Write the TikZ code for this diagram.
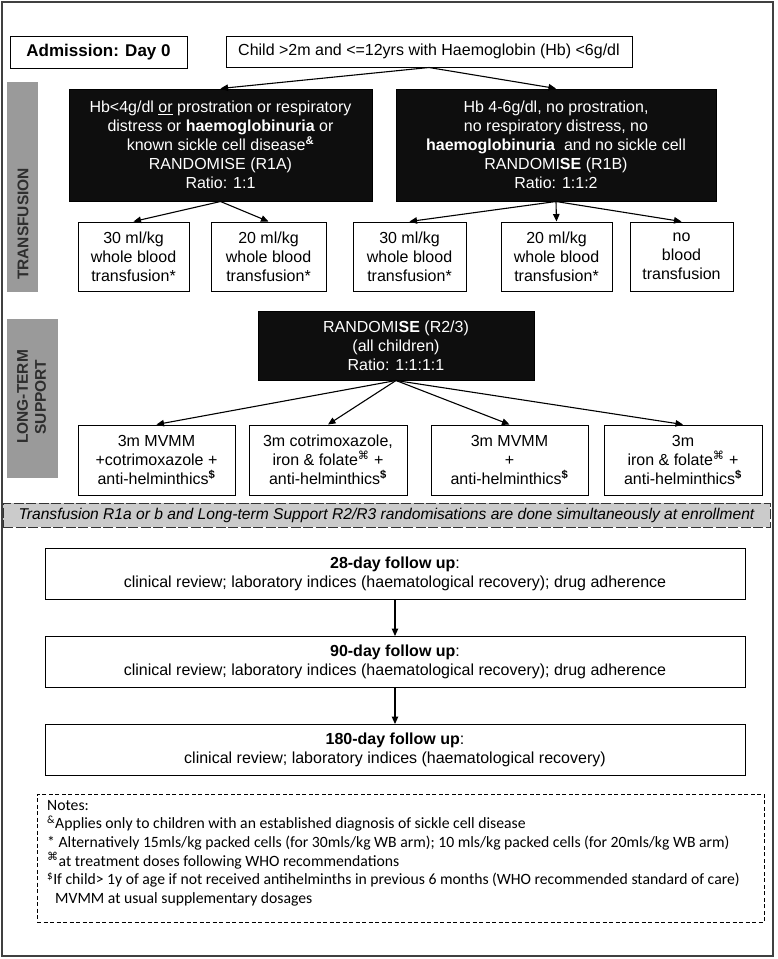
\documentclass[tikz,border=0pt]{standalone}
\usepackage{fontspec}
\setmainfont{Liberation Sans}
\newfontfamily\notesfont{Carlito}
\newfontfamily\symfont{DejaVu Sans}
\usetikzlibrary{arrows.meta}
\definecolor{barfill}{HTML}{9A9A9A}
\definecolor{bartext}{HTML}{2E2E2E}
\definecolor{bandfill}{HTML}{CBCBCB}
\definecolor{boxblack}{HTML}{0E0E0E}
\newcommand{\kk}{{\symfont\char"2318}}
\begin{document}
\begin{tikzpicture}[x=1pt,y=-1pt,
  wbox/.style={draw, line width=1pt, fill=white, align=center, inner sep=0pt, font=\fontsize{16}{19}\selectfont},
  bbox/.style={draw, line width=1pt, fill=boxblack, text=white, align=center, inner sep=0pt, font=\fontsize{16}{19}\selectfont},
  fbox/.style={draw, line width=1pt, fill=white, align=center, inner sep=0pt, minimum width=700pt, minimum height=51pt, font=\fontsize{16}{19}\selectfont},
  bar/.style={fill=barfill, draw=none, inner sep=0pt},
  bartxt/.style={text=bartext, font=\bfseries\fontsize{15.5}{18}\selectfont, align=center, rotate=90, inner sep=0pt},
  arr/.style={-{Triangle[length=7.5pt,width=6.5pt]}, line width=1.1pt}
]
\useasboundingbox (0,0) rectangle (778,959);
\fill[white] (0,0) rectangle (778,959);
\draw[line width=1.2pt, draw=black!75] (2,2) rectangle (773,956);

% top row
\node[wbox, minimum width=177pt, minimum height=32pt, font=\bfseries\fontsize{17}{19}\selectfont] (adm) at (98.5,52) {Admission: Day 0};
\node[wbox, minimum width=406pt, minimum height=31pt] (child) at (429,51.5) {Child >2m and <=12yrs with Haemoglobin (Hb) <6g/dl};

% side bars
\node[bar, minimum width=31pt, minimum height=210pt] (bar1) at (22.5,187) {};
\node[bartxt] (bar1t) at (23,224) {TRANSFUSION};
\node[bar, minimum width=51pt, minimum height=159pt] (bar2) at (32.5,398.5) {};
\node[bartxt] (bar2t) at (31.5,397) {LONG-TERM\\SUPPORT};

% randomisation R1
\node[bbox, minimum width=303pt, minimum height=112pt] (r1a) at (220.5,145) {Hb<4g/dl \underline{or} prostration or respiratory\\distress or \textbf{haemoglobinuria} or\\known sickle cell disease\textsuperscript{\textbf{\&}}\\RANDOMISE (R1A)\\Ratio: 1:1};
\node[bbox, minimum width=320pt, minimum height=112pt] (r1b) at (556,145) {Hb 4-6g/dl, no prostration,\\no respiratory distress, no\\\textbf{haemoglobinuria}\ \ and no sickle cell\\RANDOMI\textbf{SE} (R1B)\\Ratio: 1:1:2};

% transfusion arms
\node[wbox, minimum width=111pt, minimum height=69pt] (t1) at (133.5,256.5) {30 ml/kg\\whole blood\\transfusion*};
\node[wbox, minimum width=115pt, minimum height=69pt] (t2) at (268.5,256.5) {20 ml/kg\\whole blood\\transfusion*};
\node[wbox, minimum width=113pt, minimum height=69pt] (t3) at (409.5,256.5) {30 ml/kg\\whole blood\\transfusion*};
\node[wbox, minimum width=111pt, minimum height=69pt] (t4) at (556.5,256.5) {20 ml/kg\\whole blood\\transfusion*};
\node[wbox, minimum width=103pt, minimum height=69pt] (t5) at (681.5,256.5) {no\\blood\\transfusion};

\draw[arr] (child.south) -- (r1a.north);
\draw[arr] (child.south) -- (r1b.north);
\draw[arr] (r1a.south) -- (t1.north);
\draw[arr] (r1a.south) -- (t2.north);
\draw[arr] (r1b.south) -- (t3.north);
\draw[arr] (r1b.south) -- (t4.north);
\draw[arr] (r1b.south) -- (t5.north);

% randomisation R2/3
\node[bbox, minimum width=276pt, minimum height=69pt] (r23) at (396,345.5) {RANDOMI\textbf{SE} (R2/3)\\(all children)\\Ratio: 1:1:1:1};
\node[wbox, minimum width=157pt, minimum height=70pt] (l1) at (156.5,460) {3m MVMM\\+cotrimoxazole +\\anti-helminthics\textsuperscript{\textbf{\$}}};
\node[wbox, minimum width=158pt, minimum height=70pt] (l2) at (328,460) {3m cotrimoxazole,\\iron \& folate\textsuperscript{\kk} +\\anti-helminthics\textsuperscript{\textbf{\$}}};
\node[wbox, minimum width=157pt, minimum height=70pt] (l3) at (509.5,460) {3m MVMM\\+\\anti-helminthics\textsuperscript{\textbf{\$}}};
\node[wbox, minimum width=158pt, minimum height=70pt] (l4) at (683,460) {3m\\iron \& folate\textsuperscript{\kk} +\\anti-helminthics\textsuperscript{\textbf{\$}}};
\draw[arr] (r23.south) -- (l1.north);
\draw[arr] (r23.south) -- (l2.north);
\draw[arr] (r23.south) -- (l3.north);
\draw[arr] (r23.south) -- (l4.north);

% band
\node[draw=black!80, line width=1pt, dash pattern=on 10pt off 2.5pt, fill=bandfill, minimum width=767pt, minimum height=24pt, inner sep=0pt, font=\itshape\fontsize{15.6}{19}\selectfont] (band) at (386.5,515) {Transfusion R1a or b and Long-term Support R2/R3 randomisations are done simultaneously at enrollment};

% follow up
\node[fbox] (f1) at (395,573.5) {\textbf{28-day follow up}:\\clinical review; laboratory indices (haematological recovery); drug adherence};
\node[fbox] (f2) at (395,662) {\textbf{90-day follow up}:\\clinical review; laboratory indices (haematological recovery); drug adherence};
\node[fbox] (f3) at (395,750) {\textbf{180-day follow up}:\\clinical review; laboratory indices (haematological recovery)};
\draw[arr] (f1.south) -- (f2.north);
\draw[arr] (f2.south) -- (f3.north);

% notes
\node[draw, line width=1pt, dash pattern=on 4pt off 2.5pt, minimum width=727pt, minimum height=128pt, inner sep=0pt] (notes) at (400.5,858) {};
\node[anchor=north west, align=left, inner sep=0pt, font=\notesfont\fontsize{15.7}{18.6}\selectfont] (notestext) at (47,800) {Notes:\\
\textsuperscript{\&}Applies only to children with an established diagnosis of sickle cell disease\\
* Alternatively 15mls/kg packed cells (for 30mls/kg WB arm); 10 mls/kg packed cells (for 20mls/kg WB arm)\\
\textsuperscript{\kk}at treatment doses following WHO recommendations\\
\textsuperscript{\$}If child> 1y of age if not received antihelminths in previous 6 months (WHO recommended standard of care)\\
\hspace*{8pt}MVMM at usual supplementary dosages};
\end{tikzpicture}
\end{document}
